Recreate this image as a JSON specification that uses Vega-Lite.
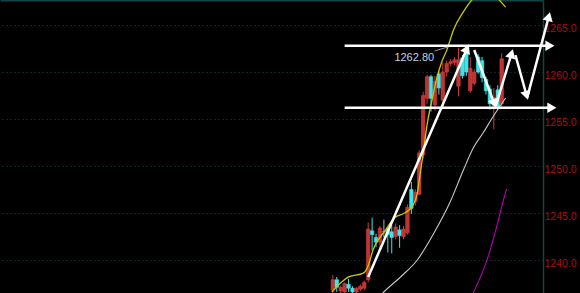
{
  "$schema": "https://vega.github.io/schema/vega-lite/v6.json",
  "background": "#000000",
  "width": 543,
  "height": 293,
  "autosize": {"type": "none"},
  "padding": {"left": 0, "top": 0, "right": 37, "bottom": 0},
  "config": {
    "view": {"stroke": null},
    "font": "Liberation Sans",
    "axisY": {"domainColor": "#124545", "domainWidth": 1.5, "grid": true, "gridColor": "#1a4a4a", "gridDash": [1, 3], "gridWidth": 1, "ticks": false, "labelColor": "#b00c0c", "labelFont": "Liberation Sans", "labelFontSize": 10.5, "labelPadding": 1, "labelOffset": 3},
    "axisX": {"domainColor": "#124545", "domainWidth": 2, "grid": false, "labels": false, "ticks": false}
  },
  "datasets": {
    "candles": [
      {"t": 0, "o": 1236.8, "c": 1237.9, "h": 1238.4, "l": 1236.3},
      {"t": 1, "o": 1237.9, "c": 1237.1, "h": 1238.2, "l": 1236.6},
      {"t": 2, "o": 1236.7, "c": 1237.1, "h": 1237.3, "l": 1236.3},
      {"t": 3, "o": 1236.6, "c": 1237.5, "h": 1237.6, "l": 1236.3},
      {"t": 4, "o": 1237.4, "c": 1237.0, "h": 1238.0, "l": 1236.6},
      {"t": 5, "o": 1237.0, "c": 1236.6, "h": 1237.2, "l": 1236.3},
      {"t": 6, "o": 1236.6, "c": 1237.0, "h": 1237.1, "l": 1236.3},
      {"t": 7, "o": 1236.9, "c": 1237.2, "h": 1237.4, "l": 1236.7},
      {"t": 8, "o": 1237.0, "c": 1237.6, "h": 1237.8, "l": 1236.8},
      {"t": 9, "o": 1237.9, "c": 1243.3, "h": 1244.0, "l": 1237.6},
      {"t": 10, "o": 1243.1, "c": 1242.7, "h": 1244.5, "l": 1241.0},
      {"t": 11, "o": 1242.4, "c": 1241.9, "h": 1242.8, "l": 1241.4},
      {"t": 12, "o": 1241.9, "c": 1243.4, "h": 1243.6, "l": 1241.3},
      {"t": 13, "o": 1243.0, "c": 1243.0, "h": 1244.3, "l": 1242.4},
      {"t": 14, "o": 1243.3, "c": 1242.7, "h": 1243.5, "l": 1240.8},
      {"t": 15, "o": 1243.0, "c": 1242.4, "h": 1243.7, "l": 1240.7},
      {"t": 16, "o": 1242.5, "c": 1243.5, "h": 1243.9, "l": 1242.2},
      {"t": 17, "o": 1243.2, "c": 1242.6, "h": 1243.7, "l": 1241.3},
      {"t": 18, "o": 1242.5, "c": 1243.3, "h": 1243.6, "l": 1242.2},
      {"t": 19, "o": 1242.9, "c": 1245.6, "h": 1245.9, "l": 1242.7},
      {"t": 20, "o": 1247.5, "c": 1245.5, "h": 1248.3, "l": 1244.9},
      {"t": 21, "o": 1246.2, "c": 1247.2, "h": 1247.5, "l": 1245.8},
      {"t": 22, "o": 1247.0, "c": 1251.4, "h": 1251.7, "l": 1246.9},
      {"t": 23, "o": 1251.2, "c": 1257.5, "h": 1257.9, "l": 1250.8},
      {"t": 24, "o": 1257.2, "c": 1259.5, "h": 1259.7, "l": 1256.6},
      {"t": 25, "o": 1259.5, "c": 1257.2, "h": 1259.7, "l": 1255.8},
      {"t": 26, "o": 1256.5, "c": 1259.0, "h": 1259.6, "l": 1255.9},
      {"t": 27, "o": 1259.8, "c": 1258.3, "h": 1260.1, "l": 1257.6},
      {"t": 28, "o": 1257.0, "c": 1260.0, "h": 1261.0, "l": 1256.0},
      {"t": 29, "o": 1260.0, "c": 1260.9, "h": 1261.2, "l": 1259.5},
      {"t": 30, "o": 1260.9, "c": 1261.1, "h": 1261.4, "l": 1260.6},
      {"t": 31, "o": 1261.0, "c": 1261.3, "h": 1261.6, "l": 1260.7},
      {"t": 32, "o": 1258.5, "c": 1261.3, "h": 1262.6, "l": 1257.4},
      {"t": 33, "o": 1261.5, "c": 1259.6, "h": 1261.8, "l": 1259.3},
      {"t": 34, "o": 1262.4, "c": 1260.0, "h": 1262.8, "l": 1259.6},
      {"t": 35, "o": 1258.0, "c": 1260.4, "h": 1261.6, "l": 1257.8},
      {"t": 36, "o": 1258.8, "c": 1260.0, "h": 1260.3, "l": 1258.6},
      {"t": 37, "o": 1261.6, "c": 1260.0, "h": 1261.9, "l": 1259.8},
      {"t": 38, "o": 1261.2, "c": 1259.4, "h": 1261.6, "l": 1258.9},
      {"t": 39, "o": 1259.2, "c": 1258.0, "h": 1259.5, "l": 1257.6},
      {"t": 40, "o": 1258.2, "c": 1256.6, "h": 1258.6, "l": 1256.0},
      {"t": 41, "o": 1256.3, "c": 1257.3, "h": 1258.3, "l": 1253.9},
      {"t": 42, "o": 1258.1, "c": 1256.3, "h": 1258.6, "l": 1255.9},
      {"t": 43, "o": 1256.6, "c": 1261.4, "h": 1262.0, "l": 1256.3}
    ],
    "ma": [
      {"s": "ma5", "t": -0.25, "v": 1236.6},
      {"s": "ma5", "t": 4, "v": 1238.2},
      {"s": "ma5", "t": 7.75, "v": 1238.6},
      {"s": "ma5", "t": 9, "v": 1239.4},
      {"s": "ma5", "t": 10.25, "v": 1241.1},
      {"s": "ma5", "t": 13.25, "v": 1243.1},
      {"s": "ma5", "t": 15.75, "v": 1244.5},
      {"s": "ma5", "t": 18.25, "v": 1245.0},
      {"s": "ma5", "t": 20.25, "v": 1245.7},
      {"s": "ma5", "t": 21.5, "v": 1247.1},
      {"s": "ma5", "t": 22.25, "v": 1249.2},
      {"s": "ma5", "t": 23, "v": 1251.3},
      {"s": "ma5", "t": 24, "v": 1254.4},
      {"s": "ma5", "t": 25.25, "v": 1257.0},
      {"s": "ma5", "t": 26.5, "v": 1259.4},
      {"s": "ma5", "t": 27.75, "v": 1261.1},
      {"s": "ma5", "t": 29, "v": 1262.3},
      {"s": "ma5", "t": 30.75, "v": 1264.5},
      {"s": "ma5", "t": 33.25, "v": 1266.4},
      {"s": "ma5", "t": 35.5, "v": 1267.7},
      {"s": "ma5", "t": 39, "v": 1268.5},
      {"s": "ma5", "t": 42.25, "v": 1267.7},
      {"s": "ma5", "t": 44, "v": 1266.9},
      {"s": "ma10", "t": 11.5, "v": 1235.9},
      {"s": "ma10", "t": 12.75, "v": 1236.49},
      {"s": "ma10", "t": 17.25, "v": 1238.19},
      {"s": "ma10", "t": 21.5, "v": 1240.0},
      {"s": "ma10", "t": 25.75, "v": 1242.87},
      {"s": "ma10", "t": 29.75, "v": 1246.06},
      {"s": "ma10", "t": 33.25, "v": 1249.57},
      {"s": "ma10", "t": 35.75, "v": 1251.91},
      {"s": "ma10", "t": 38.25, "v": 1253.51},
      {"s": "ma10", "t": 40.75, "v": 1255.21},
      {"s": "ma10", "t": 44, "v": 1257.23},
      {"s": "ma20", "t": 35.25, "v": 1236.0},
      {"s": "ma20", "t": 35.75, "v": 1236.49},
      {"s": "ma20", "t": 37.25, "v": 1237.87},
      {"s": "ma20", "t": 39, "v": 1239.68},
      {"s": "ma20", "t": 41.5, "v": 1243.19},
      {"s": "ma20", "t": 43.25, "v": 1246.06},
      {"s": "ma20", "t": 44.25, "v": 1247.55}
    ],
    "anno": [
      {"seg": "top", "k": 0, "t": 3, "v": 1262.8},
      {"seg": "top", "k": 1, "t": 54.5, "v": 1262.8},
      {"seg": "bot", "k": 0, "t": 3, "v": 1256.2},
      {"seg": "bot", "k": 1, "t": 55.0, "v": 1256.2},
      {"seg": "rise", "k": 0, "t": 9, "v": 1238.2},
      {"seg": "rise", "k": 1, "t": 34, "v": 1262.34},
      {"seg": "z1", "k": 0, "t": 36, "v": 1262.34},
      {"seg": "z1", "k": 1, "t": 41, "v": 1256.8},
      {"seg": "z2", "k": 0, "t": 41.5, "v": 1256.4},
      {"seg": "z2", "k": 1, "t": 45.4, "v": 1261.8},
      {"seg": "z3", "k": 0, "t": 46.5, "v": 1261.8},
      {"seg": "z3", "k": 1, "t": 49.25, "v": 1257.66},
      {"seg": "z4", "k": 0, "t": 49.5, "v": 1257.3},
      {"seg": "z4", "k": 1, "t": 54.9, "v": 1265.74}
    ],
    "tips": [
      {"id": "right", "t": 54.9, "v": 1262.8},
      {"id": "right", "t": 55.4, "v": 1256.2},
      {"id": "rise", "t": 34, "v": 1262.34},
      {"id": "z1", "t": 41, "v": 1256.8},
      {"id": "z2", "t": 45.4, "v": 1261.8},
      {"id": "z3", "t": 49.25, "v": 1257.66},
      {"id": "z4", "t": 54.9, "v": 1265.74}
    ],
    "leader": [
      {"k": 0, "t": 25.9, "v": 1262.23},
      {"k": 1, "t": 29.25, "v": 1262.66}
    ],
    "label": [
      {"t": 25.8, "v": 1261.5, "txt": "1262.80"}
    ]
  },
  "layer": [
    {
      "data": {"name": "candles"},
      "mark": {"type": "rule", "strokeWidth": 1},
      "encoding": {
        "x": {"field": "t", "type": "quantitative", "scale": {"domain": [-83.5, 52.25], "nice": false, "zero": false}, "axis": {"orient": "top"}, "title": null},
        "y": {"field": "l", "type": "quantitative", "scale": {"domain": [1236.49, 1267.66], "nice": false, "zero": false}, "axis": {"orient": "right", "values": [1240, 1245, 1250, 1255, 1260, 1265], "format": ".1f"}, "title": null},
        "y2": {"field": "h", "title": null},
        "color": {"condition": [{"test": "datum.c > datum.o", "value": "#d03a3a"}, {"test": "datum.c < datum.o", "value": "#3ee4e8"}], "value": "#b0b0b0"}
      }
    },
    {
      "data": {"name": "candles"},
      "mark": {"type": "bar", "size": 3.5, "strokeWidth": 0.6},
      "encoding": {
        "x": {"field": "t", "type": "quantitative", "title": null},
        "y": {"field": "o", "type": "quantitative", "title": null},
        "y2": {"field": "c", "title": null},
        "fill": {"condition": [{"test": "datum.c > datum.o", "value": "#bc3434"}, {"test": "datum.c < datum.o", "value": "#3ee4e8"}], "value": "#b0b0b0"},
        "stroke": {"condition": [{"test": "datum.c > datum.o", "value": "#d83c3c"}, {"test": "datum.c < datum.o", "value": "#3ee4e8"}], "value": "#b0b0b0"}
      }
    },
    {
      "data": {"name": "ma"},
      "mark": {"type": "line", "interpolate": "monotone"},
      "encoding": {
        "x": {"field": "t", "type": "quantitative", "title": null},
        "y": {"field": "v", "type": "quantitative", "title": null},
        "color": {"field": "s", "type": "nominal", "scale": {"domain": ["ma5", "ma10", "ma20"], "range": ["#c8c800", "#c4c4c4", "#cc00cc"]}, "legend": null},
        "strokeWidth": {"field": "s", "type": "nominal", "scale": {"domain": ["ma5", "ma10", "ma20"], "range": [1.3, 1, 1.6]}, "legend": null}
      }
    },
    {
      "data": {"name": "anno"},
      "mark": {"type": "line", "color": "#ffffff", "strokeWidth": 2.5},
      "encoding": {
        "x": {"field": "t", "type": "quantitative", "title": null},
        "y": {"field": "v", "type": "quantitative", "title": null},
        "detail": {"field": "seg"},
        "order": {"field": "k"}
      }
    },
    {
      "data": {"name": "leader"},
      "mark": {"type": "line", "color": "#9a9a9a", "strokeWidth": 1},
      "encoding": {
        "x": {"field": "t", "type": "quantitative", "title": null},
        "y": {"field": "v", "type": "quantitative", "title": null},
        "order": {"field": "k"}
      }
    },
    {
      "data": {"name": "tips"},
      "transform": [{"filter": "datum.id == 'right'"}],
      "mark": {"type": "point", "shape": "triangle", "angle": 90, "filled": true, "color": "#ffffff", "opacity": 1, "size": 110},
      "encoding": {"x": {"field": "t", "type": "quantitative", "title": null}, "y": {"field": "v", "type": "quantitative", "title": null}}
    },
    {
      "data": {"name": "tips"},
      "transform": [{"filter": "datum.id == 'rise'"}],
      "mark": {"type": "point", "shape": "triangle", "angle": 24, "filled": true, "color": "#ffffff", "opacity": 1, "size": 110},
      "encoding": {"x": {"field": "t", "type": "quantitative", "title": null}, "y": {"field": "v", "type": "quantitative", "title": null}}
    },
    {
      "data": {"name": "tips"},
      "transform": [{"filter": "datum.id == 'z1'"}],
      "mark": {"type": "point", "shape": "triangle", "angle": 159, "filled": true, "color": "#ffffff", "opacity": 1, "size": 110},
      "encoding": {"x": {"field": "t", "type": "quantitative", "title": null}, "y": {"field": "v", "type": "quantitative", "title": null}}
    },
    {
      "data": {"name": "tips"},
      "transform": [{"filter": "datum.id == 'z2'"}],
      "mark": {"type": "point", "shape": "triangle", "angle": 17, "filled": true, "color": "#ffffff", "opacity": 1, "size": 110},
      "encoding": {"x": {"field": "t", "type": "quantitative", "title": null}, "y": {"field": "v", "type": "quantitative", "title": null}}
    },
    {
      "data": {"name": "tips"},
      "transform": [{"filter": "datum.id == 'z3'"}],
      "mark": {"type": "point", "shape": "triangle", "angle": 164, "filled": true, "color": "#ffffff", "opacity": 1, "size": 110},
      "encoding": {"x": {"field": "t", "type": "quantitative", "title": null}, "y": {"field": "v", "type": "quantitative", "title": null}}
    },
    {
      "data": {"name": "tips"},
      "transform": [{"filter": "datum.id == 'z4'"}],
      "mark": {"type": "point", "shape": "triangle", "angle": 15, "filled": true, "color": "#ffffff", "opacity": 1, "size": 110},
      "encoding": {"x": {"field": "t", "type": "quantitative", "title": null}, "y": {"field": "v", "type": "quantitative", "title": null}}
    },
    {
      "data": {"name": "label"},
      "mark": {"type": "text", "align": "right", "baseline": "middle", "color": "#c4d2e0", "fontSize": 11, "font": "Liberation Sans"},
      "encoding": {
        "x": {"field": "t", "type": "quantitative", "title": null},
        "y": {"field": "v", "type": "quantitative", "title": null},
        "text": {"field": "txt"}
      }
    }
  ]
}
